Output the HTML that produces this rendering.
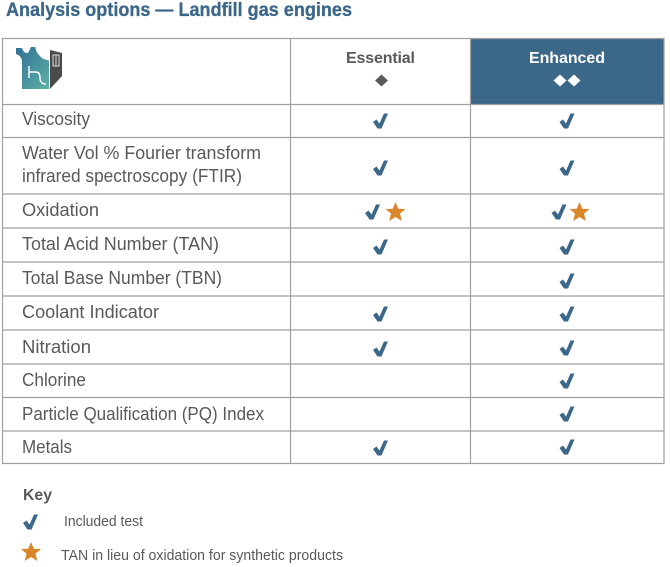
<!DOCTYPE html>
<html lang="en"><head><meta charset="utf-8"><title>Analysis options — Landfill gas engines</title>
<style>
html,body{margin:0;padding:0;background:#fff}
body{width:670px;height:567px;overflow:hidden;position:relative}
svg{position:absolute;left:0;top:0}
text{font-family:"Liberation Sans",sans-serif;fill:#595959}
.l{font-size:18px}
</style></head><body>
<svg width="670" height="567" viewBox="0 0 670 567">
<defs>
<path id="c" d="M-7.5,1 L-4,-1.500 L-1,2.500 L3.500,-7.500 L7.500,-7.500 L1,7.500 L-3,7.500 Z" fill="#3b6789"/>
<path id="s" d="M0,-10 L2.800,-3.300 L10,-3 L4.500,1.600 L6.300,9 L0,5 L-6.300,9 L-4.500,1.600 L-10,-3 L-2.800,-3.300 Z" fill="#d9862b"/>
<linearGradient id="g" x1="0" y1="0" x2="1" y2="1"><stop offset="0" stop-color="#2f6f96"/><stop offset="1" stop-color="#5fb0a5"/></linearGradient>
</defs>
<text x="6" y="16" font-size="19" font-weight="bold" style="fill:#3b6789" textLength="346" lengthAdjust="spacingAndGlyphs" stroke="#3b6789" stroke-width="0.3">Analysis options — Landfill gas engines</text>
<rect x="471" y="39" width="193" height="65" fill="#3b6789"/>
<g stroke="#a0a0a0" stroke-width="1.2">
<path d="M2,38.500H664M2,104.500H664M2,137.500H664M2,194H664M2,228H664M2,262H664M2,296H664M2,330H664M2,364H664M2,397.500H664M2,431H664M2,463.500H664" fill="none"/>
<path d="M2.500,38V464M290.500,38V464M470.500,38V464M664,38V464" fill="none"/>
</g>
<g>
<path d="M16,48H22Q23,53 28,53L31,47H36Q37,54 42,58Q45,60 49,60V89H22V62Q22,56 16,54Z" fill="url(#g)"/>
<path d="M36,47Q37,56 49,60" stroke="#fff" stroke-width="1.400" fill="none"/>
<path d="M29,66V78M29,72H36Q40,72 40,78Q40,84 46,84" stroke="#fff" stroke-width="1.400" fill="none"/>
<path d="M50,50L62,53V76L50,89Z" fill="#4a4a4a"/>
<path d="M53,55H59V66H53ZM56,55V66" fill="none" stroke="#ddd" stroke-width="1"/>
</g>
<text x="380.500" y="63" text-anchor="middle" font-size="16" font-weight="bold" textLength="69">Essential</text>
<path d="M381.500,74.500 L388,80.500 L381.500,86.500 L375,80.500 Z" fill="#595959"/>
<text x="567" y="63" text-anchor="middle" font-size="16" font-weight="bold" textLength="76" style="fill:#fff">Enhanced</text>
<g fill="#fff"><path d="M560,74.500 L566.500,80.500 L560,86.500 L553.500,80.500 Z"/><path d="M574,74.500 L580.500,80.500 L574,86.500 L567.500,80.500 Z"/></g>

<g class="l">
<text x="22" y="125" textLength="68" lengthAdjust="spacingAndGlyphs">Viscosity</text>
<text x="22" y="159" textLength="239" lengthAdjust="spacingAndGlyphs">Water Vol % Fourier transform</text>
<text x="22" y="182" textLength="220" lengthAdjust="spacingAndGlyphs">infrared spectroscopy (FTIR)</text>
<text x="22" y="216" textLength="77" lengthAdjust="spacingAndGlyphs">Oxidation</text>
<text x="22" y="250" textLength="197" lengthAdjust="spacingAndGlyphs">Total Acid Number (TAN)</text>
<text x="22" y="284" textLength="200" lengthAdjust="spacingAndGlyphs">Total Base Number (TBN)</text>
<text x="22" y="318" textLength="137" lengthAdjust="spacingAndGlyphs">Coolant Indicator</text>
<text x="22" y="353" textLength="69" lengthAdjust="spacingAndGlyphs">Nitration</text>
<text x="22" y="386" textLength="64" lengthAdjust="spacingAndGlyphs">Chlorine</text>
<text x="22" y="420" textLength="242" lengthAdjust="spacingAndGlyphs">Particle Qualification (PQ) Index</text>
<text x="22" y="453" textLength="50" lengthAdjust="spacingAndGlyphs">Metals</text>
</g>

<g>
<use href="#c" x="380.500" y="121"/><use href="#c" x="380.500" y="168"/><use href="#c" x="372.500" y="212"/><use href="#s" x="395.500" y="212"/><use href="#c" x="380.500" y="247"/><use href="#c" x="380.500" y="314"/><use href="#c" x="380.500" y="349"/><use href="#c" x="380.500" y="448"/>
</g>
<g>
<use href="#c" x="567" y="121"/><use href="#c" x="567" y="168"/><use href="#c" x="559" y="212"/><use href="#s" x="579.500" y="212"/><use href="#c" x="567" y="247"/><use href="#c" x="567" y="281"/><use href="#c" x="567" y="314"/><use href="#c" x="567" y="348"/><use href="#c" x="567" y="381"/><use href="#c" x="567" y="414"/><use href="#c" x="567" y="447"/>
</g>

<g>
<text x="23" y="500" font-size="16" font-weight="bold" textLength="29" lengthAdjust="spacingAndGlyphs">Key</text>
<use href="#c" x="30.500" y="522"/>
<text x="64" y="526" font-size="15" textLength="79" lengthAdjust="spacingAndGlyphs">Included test</text>
<use href="#s" x="31" y="552"/>
<text x="61" y="560" font-size="15" textLength="282" lengthAdjust="spacingAndGlyphs">TAN in lieu of oxidation for synthetic products</text>
</g>
</svg>
</body></html>
